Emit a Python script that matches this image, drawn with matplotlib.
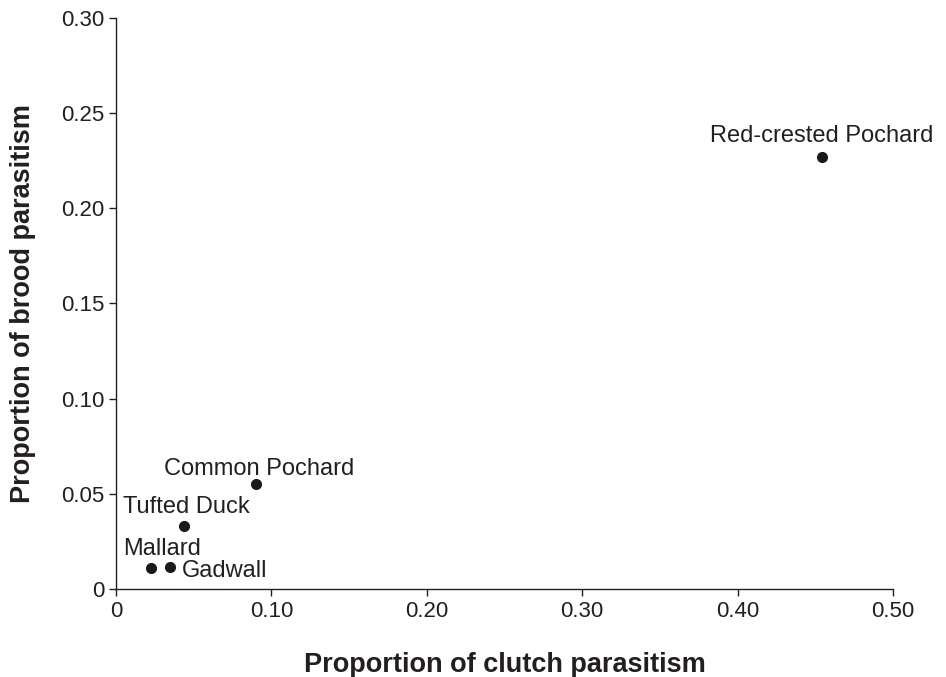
import matplotlib
matplotlib.use("Agg")
import matplotlib.pyplot as plt

plt.rcParams['font.family'] = ['Liberation Sans', 'DejaVu Sans']

species = ["Red-crested Pochard", "Common Pochard", "Tufted Duck", "Mallard", "Gadwall"]
clutch = [0.454, 0.090, 0.044, 0.0225, 0.035]
brood = [0.227, 0.055, 0.033, 0.011, 0.0115]
# label offsets in points (dx, dy) and horizontal alignment
label_pos = {
    "Red-crested Pochard": ((0, 10.8), "center"),
    "Common Pochard": ((2, 6.5), "center"),
    "Tufted Duck": ((1.8, 9.4), "center"),
    "Mallard": ((7.9, 9.4), "center"),
    "Gadwall": ((8.6, -7.0), "left"),
}

x_ticks = [0, 0.10, 0.20, 0.30, 0.40, 0.50]
x_labels = ["0", "0.10", "0.20", "0.30", "0.40", "0.50"]
y_ticks = [0, 0.05, 0.10, 0.15, 0.20, 0.25, 0.30]
y_labels = ["0", "0.05", "0.10", "0.15", "0.20", "0.25", "0.30"]

fig = plt.figure(figsize=(9.46, 6.77), dpi=100)
ax = fig.add_axes([0.1226, 0.130, 0.8214, 0.8434])

ax.plot(clutch, brood, 'o', color='#1a1a1a', markersize=7, clip_on=False)
for name, xv, yv in zip(species, clutch, brood):
    off, ha = label_pos[name]
    ax.annotate(name, (xv, yv), xytext=off, textcoords='offset points',
                ha=ha, va='baseline', fontsize=17, color='#231f20')

ax.set_xlim(0, 0.50)
ax.set_ylim(0, 0.30)
ax.set_xticks(x_ticks)
ax.set_xticklabels(x_labels)
ax.set_yticks(y_ticks)
ax.set_yticklabels(y_labels)
ax.tick_params(labelsize=16, length=5, width=1, colors='#231f20', direction='out')
for s in ['top', 'right']:
    ax.spines[s].set_visible(False)
for s in ['left', 'bottom']:
    ax.spines[s].set_color('#231f20')
    ax.spines[s].set_linewidth(1)

ax.set_xlabel("Proportion of clutch parasitism", fontsize=19.5, fontweight='bold',
              color='#231f20', labelpad=22)
ax.set_ylabel("Proportion of brood parasitism", fontsize=19.5, fontweight='bold',
              color='#231f20', labelpad=18)

fig.savefig("out.png", dpi=100)
